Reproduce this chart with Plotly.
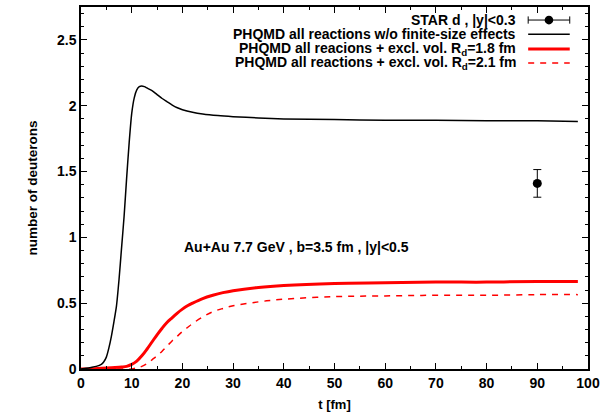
import plotly.graph_objects as go

# ---- data ----
t_black = [0, 1, 2, 3, 4, 4.5, 5, 5.5, 6, 6.5, 7, 7.5, 8, 8.5, 9, 9.5, 10, 10.5, 11, 11.5, 12, 12.5,
           13, 14, 15, 16, 17, 18, 19, 20, 22, 24, 27, 30, 35, 40, 50, 60, 70, 80, 90, 98]
y_black = [0, 0.005, 0.012, 0.02, 0.035, 0.055, 0.09, 0.16, 0.25, 0.36, 0.48, 0.68, 0.92, 1.16, 1.45,
           1.72, 1.94, 2.06, 2.12, 2.145, 2.15, 2.145, 2.135, 2.115, 2.085, 2.055, 2.03, 2.005, 1.985,
           1.97, 1.95, 1.937, 1.925, 1.917, 1.907, 1.90, 1.895, 1.89, 1.89, 1.885, 1.885, 1.88]

t_red18 = [0, 2, 4, 6, 8, 9, 10, 11, 12, 13, 14, 15, 16, 17, 18, 19, 20, 21, 22, 24, 26, 28, 30,
           35, 40, 50, 60, 70, 80, 90, 98]
y_red18 = [0, 0.0, 0.005, 0.01, 0.015, 0.02, 0.035, 0.06, 0.10, 0.15, 0.205, 0.26, 0.31, 0.355,
           0.39, 0.425, 0.455, 0.48, 0.50, 0.535, 0.56, 0.58, 0.595, 0.62, 0.635, 0.65, 0.655, 0.66,
           0.66, 0.665, 0.665]

t_red21 = [0, 4, 8, 10, 11, 12, 13, 14, 15, 16, 17, 18, 19, 20, 21, 22, 24, 26, 28, 30, 35, 40, 50,
           60, 70, 80, 90, 98]
y_red21 = [0, 0, 0, 0.0, 0.01, 0.02, 0.04, 0.07, 0.10, 0.135, 0.175, 0.215, 0.25, 0.285, 0.315,
           0.345, 0.395, 0.435, 0.46, 0.48, 0.51, 0.53, 0.55, 0.555, 0.56, 0.56, 0.565, 0.565]

star_t = [90]
star_y = [1.41]
star_err = [0.105]

legend_labels = [
    "STAR d , |y|<0.3",
    "PHQMD all reactions w/o finite-size effects",
    "PHQMD all reacions + excl. vol. R<sub>d</sub>=1.8 fm",
    "PHQMD all reactions + excl. vol. R<sub>d</sub>=2.1 fm",
]

FONT = "Liberation Sans, Arial, Helvetica, sans-serif"

fig = go.Figure()
fig.add_trace(go.Scatter(x=t_red21, y=y_red21, mode="lines", line=dict(color="#ff0000", width=1.5, dash="6px,6px"), line_shape="spline"))
fig.add_trace(go.Scatter(x=t_red18, y=y_red18, mode="lines", line=dict(color="#ff0000", width=3), line_shape="spline"))
fig.add_trace(go.Scatter(x=t_black, y=y_black, mode="lines", line=dict(color="black", width=1.5, smoothing=0.6), line_shape="spline"))
fig.add_trace(go.Scatter(x=star_t, y=star_y, mode="markers",
                         marker=dict(color="black", size=9),
                         error_y=dict(type="data", array=star_err, color="black", thickness=1, width=4)))

# legend (manual, gnuplot-style: text right-aligned, sample on right)
x_text = 0.862
x0s, x1s = 0.882, 0.964
rows = [0.964, 0.925, 0.884, 0.845]
for lab, yy in zip(legend_labels, rows):
    fig.add_annotation(x=x_text, y=yy, xref="paper", yref="paper", text="<b>" + lab + "</b>", showarrow=False,
                       xanchor="right", yanchor="middle",
                       font=dict(family=FONT, size=14, color="black"))
# sample 1: error bar
fig.add_shape(type="line", xref="paper", yref="paper", x0=x0s, x1=x1s, y0=rows[0], y1=rows[0], line=dict(color="black", width=1))
for xc in (x0s, x1s):
    fig.add_shape(type="line", xref="paper", yref="paper", x0=xc, x1=xc, y0=rows[0] - 0.01, y1=rows[0] + 0.01, line=dict(color="black", width=1))
fig.add_shape(type="circle", xref="paper", yref="paper", x0=(x0s + x1s) / 2 - 0.0085, x1=(x0s + x1s) / 2 + 0.0085,
              y0=rows[0] - 0.012, y1=rows[0] + 0.012, fillcolor="black", line=dict(color="black", width=0))
fig.add_shape(type="line", xref="paper", yref="paper", x0=x0s, x1=x1s, y0=rows[1], y1=rows[1], line=dict(color="black", width=1.5))
fig.add_shape(type="line", xref="paper", yref="paper", x0=x0s, x1=x1s, y0=rows[2], y1=rows[2], line=dict(color="#ff0000", width=3))
fig.add_shape(type="line", xref="paper", yref="paper", x0=x0s, x1=x1s, y0=rows[3], y1=rows[3], line=dict(color="#ff0000", width=1.5, dash="6px,6px"))

fig.add_annotation(x=0.199, y=0.338, xref="paper", yref="paper", text="<b>Au+Au 7.7 GeV , b=3.5 fm , |y|<0.5</b>",
                   showarrow=False, xanchor="left", yanchor="middle",
                   font=dict(family=FONT, size=14, color="black"))

axis_common = dict(showline=True, linecolor="black", linewidth=1.5, mirror="ticks", ticks="inside",
                   ticklen=6, tickwidth=1, tickcolor="black", showgrid=False, zeroline=False,
                   tickprefix="<b>", ticksuffix="</b>",
                   tickfont=dict(family=FONT, size=14, color="black"))

fig.update_xaxes(range=[0, 100], dtick=10, tick0=0,
                 minor=dict(ticks="inside", dtick=5, ticklen=3, tickcolor="black"),
                 title=dict(text="<b>t [fm]</b>", font=dict(family=FONT, size=13, color="black"), standoff=10),
                 **axis_common)
fig.update_yaxes(range=[0, 2.75], dtick=0.5, tick0=0,
                 minor=dict(ticks="inside", dtick=0.1, ticklen=3, tickcolor="black"),
                 title=dict(text="<b>number of deuterons</b>", font=dict(family=FONT, size=13.5, color="black"), standoff=16),
                 **axis_common)

fig.update_layout(width=611, height=417, showlegend=False, plot_bgcolor="white", paper_bgcolor="white",
                  margin=dict(l=81, r=23, t=7, b=48, autoexpand=False), font=dict(family=FONT))

fig.write_html("out.html", config={"displayModeBar": False},
               post_script="document.body.style.margin='0';document.body.style.overflow='hidden';")
